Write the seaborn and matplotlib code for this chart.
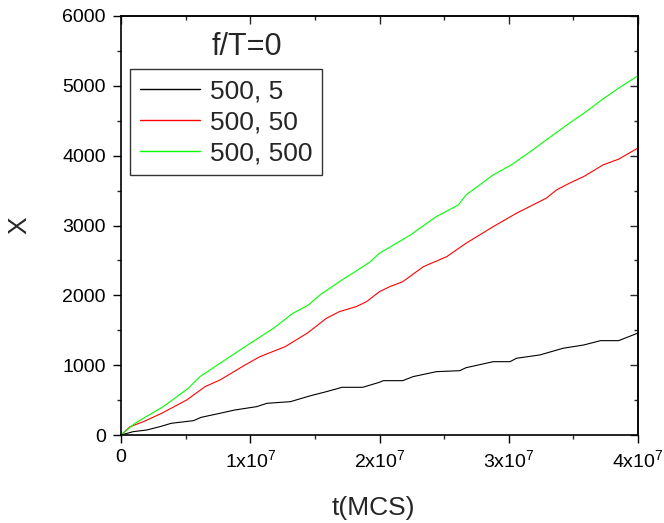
import matplotlib
matplotlib.use("Agg")
import matplotlib.pyplot as plt
import seaborn as sns
import pandas as pd
from matplotlib.ticker import MultipleLocator, FixedLocator, FixedFormatter

sns.set_style("ticks")
plt.rcParams['font.family'] = ['Liberation Sans', 'DejaVu Sans']
plt.rcParams['mathtext.fontset'] = 'custom'
plt.rcParams['mathtext.rm'] = 'Liberation Sans'
plt.rcParams['mathtext.it'] = 'Liberation Sans:italic'

# ---- data (t in units of 1e6 MCS) ----
series_labels = ["500, 5", "500, 50", "500, 500"]
series_colors = ["#000000", "#ff0000", "#00ff00"]

t_black = [0, 0.95, 2.0, 3.0, 3.9, 5.6, 6.2, 7.66, 8.8, 10.5, 11.3, 13.1, 14.6, 15.9,
           17.1, 18.7, 20.0, 20.3, 21.8, 22.6, 24.4, 26.2, 26.7, 28.8, 30.1, 30.6,
           32.4, 34.2, 35.8, 37.1, 38.5, 40.0]
x_black = [0, 48, 72, 119, 168, 205, 253, 311, 358, 406, 454, 477, 559, 621,
           683, 683, 755, 778, 778, 836, 907, 921, 964, 1050, 1050, 1099,
           1146, 1242, 1289, 1351, 1351, 1460]

t_red = [0, 0.7, 1.73, 3.15, 5.08, 6.5, 7.66, 9.6, 10.75, 12.7, 14.4, 15.9, 16.9,
         18.2, 19.0, 20.0, 20.8, 21.8, 23.4, 25.2, 26.7, 28.8, 30.6, 32.9, 33.7,
         34.7, 35.8, 37.3, 38.5, 40.0]
x_red = [0, 119, 191, 311, 501, 692, 788, 1003, 1122, 1265, 1457, 1672, 1767,
         1838, 1910, 2053, 2125, 2196, 2411, 2554, 2746, 2984, 3176, 3391, 3510,
         3606, 3701, 3868, 3950, 4110]

t_green = [0, 1.08, 3.27, 5.2, 6.1, 7.66, 9.6, 11.8, 13.3, 14.5, 15.4, 17.1, 18.0,
           19.3, 20.0, 22.4, 24.4, 26.1, 26.7, 28.8, 30.2, 31.5, 32.9, 34.7, 36.0,
           37.2, 38.5, 40.0]
x_green = [0, 168, 406, 669, 835, 1027, 1265, 1529, 1743, 1862, 2006, 2221, 2325,
           2483, 2603, 2865, 3128, 3295, 3438, 3725, 3868, 4036, 4226, 4466, 4632,
           4800, 4967, 5145]

xtick_vals = [0, 1e7, 2e7, 3e7, 4e7]
xtick_labels = ["0", r"1x10$^7$", r"2x10$^7$", r"3x10$^7$", r"4x10$^7$"]

frames = []
for lab, ts, xs in zip(series_labels, [t_black, t_red, t_green], [x_black, x_red, x_green]):
    frames.append(pd.DataFrame({"t": [v * 1e6 for v in ts], "X": xs, "series": lab}))
df = pd.concat(frames, ignore_index=True)

fig = plt.figure(figsize=(6.64, 5.23), dpi=100)
ax = fig.add_axes([121 / 664, 1 - 435 / 523, 517 / 664, 419 / 523])

sns.lineplot(data=df, x="t", y="X", hue="series", hue_order=series_labels,
             palette=dict(zip(series_labels, series_colors)), estimator=None,
             sort=False, linewidth=0.8, legend=False, ax=ax)

ax.set_xlim(0, 4e7)
ax.set_ylim(0, 6000)
ax.xaxis.set_major_locator(FixedLocator(xtick_vals))
ax.xaxis.set_major_formatter(FixedFormatter(xtick_labels))
ax.xaxis.set_minor_locator(MultipleLocator(0.5e7))
ax.yaxis.set_major_locator(MultipleLocator(1000))
ax.yaxis.set_minor_locator(MultipleLocator(500))

for sp in ax.spines.values():
    sp.set_visible(True)
    sp.set_linewidth(1.2)
    sp.set_color("black")

ax.tick_params(which="major", direction="out", length=6, width=1.0, labelsize=14,
               colors="black")
ax.tick_params(axis="y", which="major", pad=5)
ax.tick_params(axis="x", which="major", pad=4)
ax.tick_params(which="minor", direction="out", length=3, width=1.0)

# top and right: inward ticks, no labels
secx = ax.secondary_xaxis("top")
secx.xaxis.set_major_locator(FixedLocator(xtick_vals))
secx.xaxis.set_minor_locator(MultipleLocator(0.5e7))
secx.tick_params(which="major", direction="in", length=6, width=1.0, labeltop=False)
secx.tick_params(which="minor", direction="in", length=3, width=1.0)
secx.spines["top"].set_linewidth(1.2)

secy = ax.secondary_yaxis("right")
secy.yaxis.set_major_locator(MultipleLocator(1000))
secy.yaxis.set_minor_locator(MultipleLocator(500))
secy.tick_params(which="major", direction="in", length=6, width=1.0, labelright=False)
secy.tick_params(which="minor", direction="in", length=3, width=1.0)
secy.spines["right"].set_linewidth(1.2)

ax.set_xlabel("t(MCS)", fontsize=19, labelpad=19)
ax.xaxis.set_label_coords(0.488, -0.145)
ax.set_ylabel("X", fontsize=19, labelpad=22)

leg = ax.legend(ax.lines[:3], series_labels, loc="upper left",
                bbox_to_anchor=(0.0174, 0.8735), borderaxespad=0, fontsize=19,
                frameon=True, fancybox=False, handlelength=2.27, handletextpad=0.38,
                labelspacing=0.27, borderpad=0.38)
leg.get_frame().set_edgecolor("black")
leg.get_frame().set_linewidth(1.0)
for ln in leg.get_lines():
    ln.set_linewidth(1.0)

ax.text((247 - 121) / 517, (435 - 47) / 419, "f/T=0", transform=ax.transAxes,
        fontsize=22, ha="center", va="center")

fig.savefig("out.png", dpi=100)
